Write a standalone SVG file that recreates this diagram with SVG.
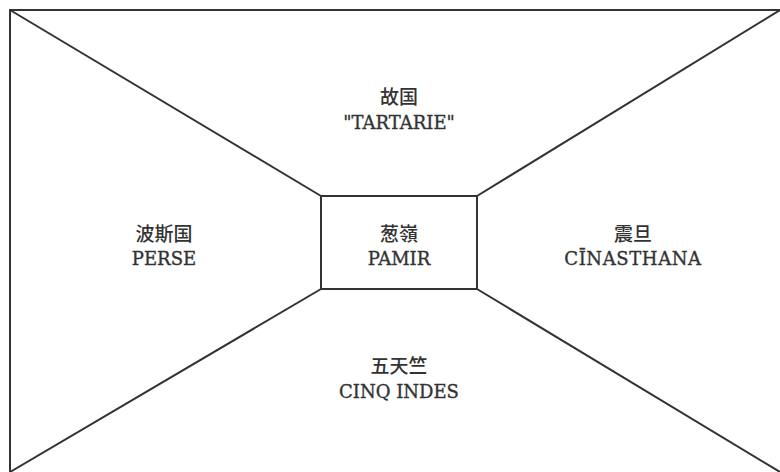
<svg xmlns="http://www.w3.org/2000/svg" width="780" height="472" viewBox="0 0 780 472">
<style>
.ln{stroke:#333;stroke-width:2;fill:none}
.t{font-family:"DejaVu Serif","Noto Sans CJK SC",serif;font-size:18px;fill:#333;stroke:#333;stroke-width:0.35;text-anchor:middle}
.c{font-family:"Noto Sans CJK SC",sans-serif;font-size:19px;font-weight:500;fill:#333;text-anchor:middle}
</style>
<rect width="780" height="472" fill="#fff"/>
<g id="connectors">
<rect class="ln" x="10" y="10" width="780" height="472"/>
<line class="ln" x1="10" y1="10" x2="321" y2="196"/>
<line class="ln" x1="780" y1="10" x2="477" y2="196"/>
<line class="ln" x1="10" y1="472" x2="321" y2="289"/>
<line class="ln" x1="780" y1="472" x2="477" y2="289"/>
</g>
<g id="north"><text class="c" x="399" y="104">故国</text><text class="t" x="399" y="129">"TARTARIE"</text></g>
<g id="west"><text class="c" x="164" y="241">波斯国</text><text class="t" x="164" y="265">PERSE</text></g>
<g id="center"><rect class="ln" x="321" y="196" width="156" height="93"/><text class="c" x="399" y="241">葱嶺</text><text class="t" x="399" y="265">PAMIR</text></g>
<g id="east"><text class="c" x="633" y="241">震旦</text><text class="t" x="633" y="265" letter-spacing="0.6">CĪNASTHANA</text></g>
<g id="south"><text class="c" x="399" y="373">五天竺</text><text class="t" x="399" y="398">CINQ INDES</text></g>
</svg>
